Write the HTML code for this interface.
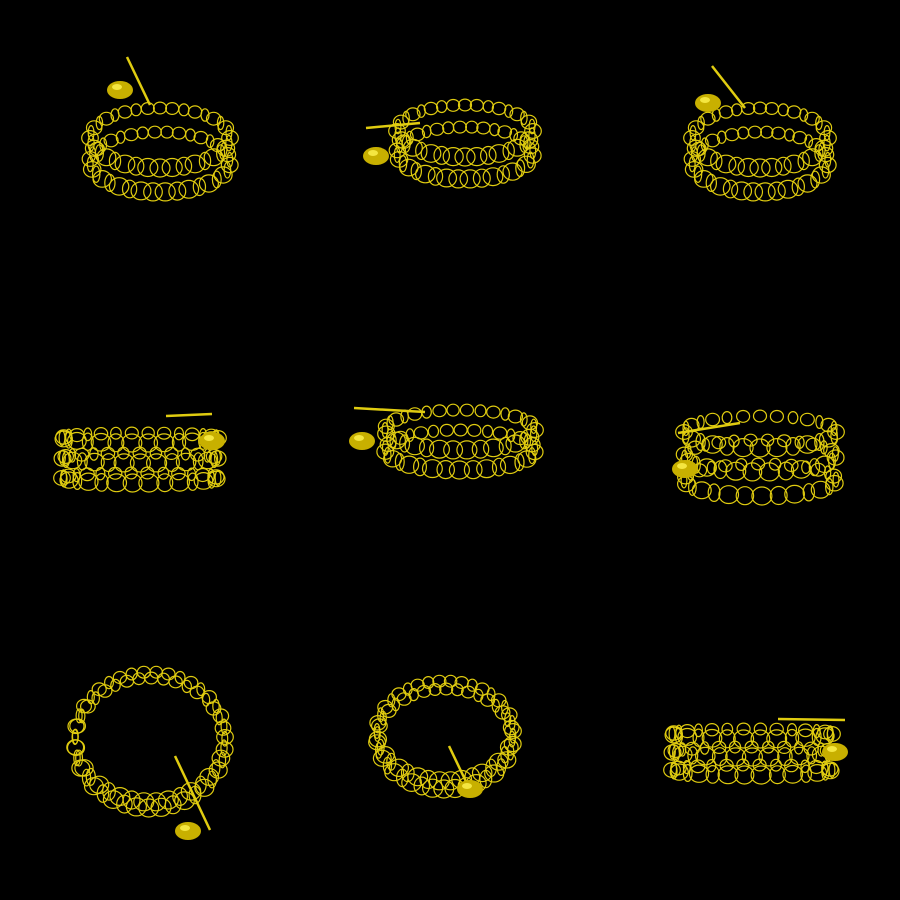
<!DOCTYPE html>
<html><head><meta charset="utf-8"><style>
html,body{margin:0;padding:0;background:#000;}
svg{display:block;}
</style></head><body>
<svg id="scene" width="900" height="900" viewBox="0 0 900 900">
<rect width="900" height="900" fill="#000"/>
</svg>
<script>
const centersX = [160, 465, 760, 140, 460, 760, 150, 445, 752];
const centersY = [150, 142, 150, 458, 440, 456, 740, 735, 752];
const coilRx   = [70, 68, 68, 78, 75, 76, 75, 68, 80];
const coilRy   = [30, 26, 30, 5, 20, 16, 65, 50, 5];
const coilGap  = [24, 22, 24, 20, 20, 24, 6, 8, 18];
const coilCnt  = [2, 2, 2, 3, 2, 3, 2, 2, 3];
const ringCnt  = [36, 36, 36, 30, 34, 28, 38, 38, 30];
const heartX   = [120, 376, 708, 212, 362, 685, 188, 470, 835];
const heartY   = [90, 156, 103, 441, 441, 469, 831, 789, 752];
const barX1    = [127, 366, 712, 166, 354, 678, 175, 449, 778];
const barY1    = [57, 128, 66, 416, 408, 433, 756, 746, 719];
const barX2    = [150, 420, 745, 212, 425, 740, 210, 470, 845];
const barY2    = [105, 123, 108, 414, 412, 423, 830, 790, 720];

const svg = document.getElementById('scene');
const NS = 'http://www.w3.org/2000/svg';
const col = '#e0cc10';

for (let p = 0; p < centersX.length; p++) {
  const g = document.createElementNS(NS, 'g');
  
  
  svg.appendChild(g);
  const n = coilCnt[p];
  const count = ringCnt[p];
  for (let c = 0; c < n; c++) {
    const oy = (c - (n - 1) / 2) * coilGap[p];
    for (let i = 0; i < count; i++) {
      const t = (i / count) * Math.PI * 2 + c * 0.1;
      const x = centersX[p] + coilRx[p] * Math.cos(t);
      const y = centersY[p] + oy + coilRy[p] * Math.sin(t);
      const depth = (Math.sin(t) + 1) / 2;
      const r = 6.5 + depth * 3.5;
      const e = document.createElementNS(NS, 'ellipse');
      
      
      e.setAttribute('cx', x.toFixed(1));
      e.setAttribute('cy', y.toFixed(1));
      const side = Math.abs(Math.cos(t));
      const rx = i % 2 ? r * (0.35 + 0.65 * (1 - side)) : r;
      e.setAttribute('rx', rx.toFixed(1));
      e.setAttribute('ry', (r * 0.9).toFixed(1));
      e.setAttribute('fill', 'none');
      e.setAttribute('stroke', col);
      e.setAttribute('stroke-width', '1.2');
      g.appendChild(e);
    }
  }
  const bar = document.createElementNS(NS, 'line');
  
  
  bar.setAttribute('x1', barX1[p]); bar.setAttribute('y1', barY1[p]);
  bar.setAttribute('x2', barX2[p]); bar.setAttribute('y2', barY2[p]);
  bar.setAttribute('stroke', col); bar.setAttribute('stroke-width', '2.5');
  g.appendChild(bar);
  const h = document.createElementNS(NS, 'ellipse');
  
  
  h.setAttribute('cx', heartX[p]); h.setAttribute('cy', heartY[p]);
  h.setAttribute('rx', 13); h.setAttribute('ry', 9);
  h.setAttribute('fill', '#c8b000');
  g.appendChild(h);
  const hl = document.createElementNS(NS, 'ellipse');
  
  
  hl.setAttribute('cx', heartX[p] - 3); hl.setAttribute('cy', heartY[p] - 3);
  hl.setAttribute('rx', 5); hl.setAttribute('ry', 3);
  hl.setAttribute('fill', '#f4e640');
  g.appendChild(hl);
}
</script>
</body></html>
